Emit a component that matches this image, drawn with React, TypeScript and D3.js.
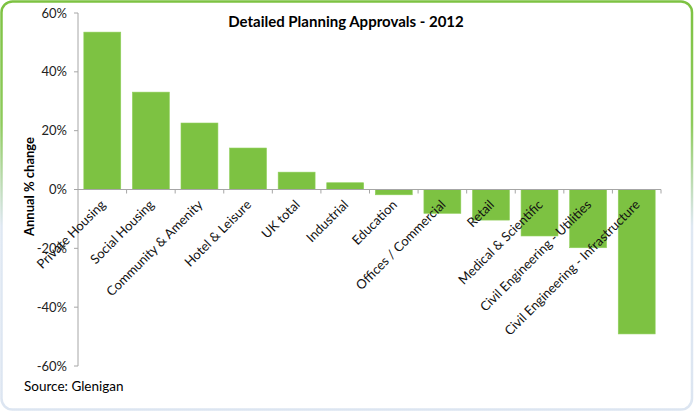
import React from "react";
import * as d3 from "d3";

const categories = [
  "Private Housing",
  "Social Housing",
  "Community & Amenity",
  "Hotel & Leisure",
  "UK total",
  "Industrial",
  "Education",
  "Offices / Commercial",
  "Retail",
  "Medical & Scientific",
  "Civil Engineering - Utilities",
  "Civil Engineering - Infrastructure",
];
const values = [53.5, 33.1, 22.6, 14.1, 5.9, 2.3, -1.8, -8.1, -10.4, -15.8, -19.8, -49.1];
const yTicks = [60, 40, 20, 0, -20, -40, -60];
const title = "Detailed Planning  Approvals - 2012";
const yTitle = "Annual % change";
const source = "Source: Glenigan";

const W = 694;
const H = 414;
const FONT = "Lato, 'Open Sans', sans-serif";

export default function App() {
  const x = d3.scaleBand<string>().domain(categories).range([78, 661]).paddingInner(0.24).paddingOuter(0.12);
  const y = d3.scaleLinear().domain([-60, 60]).range([366, 13]);
  const step = x.step();
  const x0 = 78;
  const y0 = y(0);
  return (
    <svg width={W} height={H} style={{ position: "absolute", left: 0, top: 0, display: "block" }} fontFamily={FONT}>
      <defs>
        <linearGradient id="bord" x1="0" y1="0" x2="0" y2="1">
          <stop offset="0" stopColor="#7dc242" />
          <stop offset="0.3" stopColor="#8ecb5c" />
          <stop offset="0.55" stopColor="#dfe8f3" />
          <stop offset="1" stopColor="#dce5f1" />
        </linearGradient>
      </defs>
      <rect x={0} y={0} width={W} height={H} fill="#ffffff" />
      <rect x={1.5} y={1.5} width={690.5} height={408} rx={11} ry={11} fill="#ffffff" stroke="url(#bord)" strokeWidth={2.5} />
      <text x={346} y={27} textAnchor="middle" fontSize={15} fontWeight="bold" fill="#000">{title}</text>
      {/* y axis */}
      <line x1={x0} x2={x0} y1={y(60)} y2={y(-60)} stroke="#a6a6a6" strokeWidth={1} />
      {yTicks.map((t) => (
        <g key={t}>
          <line x1={x0 - 4} x2={x0} y1={y(t)} y2={y(t)} stroke="#a6a6a6" />
          <text x={67} y={y(t) + 4.5} textAnchor="end" fontSize={13} fill="#222">{`${t}%`}</text>
        </g>
      ))}
      <text transform={`translate(34,${y(0) - 3}) rotate(-90)`} textAnchor="middle" fontSize={13} fontWeight="bold" fill="#000">{yTitle}</text>
      {/* bars */}
      {categories.map((c, i) => {
        const v = values[i];
        return (
          <rect key={c} x={x(c)} width={x.bandwidth()} y={Math.min(y(v), y0)} height={Math.abs(y(v) - y0)} fill="#7dc242" stroke="#8fcf5a" strokeWidth={0.6} />
        );
      })}
      {/* x axis */}
      <line x1={x0} x2={661} y1={y0} y2={y0} stroke="#a6a6a6" />
      {categories.map((c, i) => (
        <line key={"t" + i} x1={x0 + step * (i + 1)} x2={x0 + step * (i + 1)} y1={y0} y2={y0 + 4} stroke="#a6a6a6" />
      ))}
      {categories.map((c) => {
        const cx = (x(c) as number) + x.bandwidth() / 2 + 4;
        return (
          <text key={"l" + c} transform={`translate(${cx},${y0 + 16}) rotate(-45)`} textAnchor="end" fontSize={13} fill="#111">{c}</text>
        );
      })}
      <text x={24} y={391} fontSize={13.5} fill="#000">{source}</text>
    </svg>
  );
}
